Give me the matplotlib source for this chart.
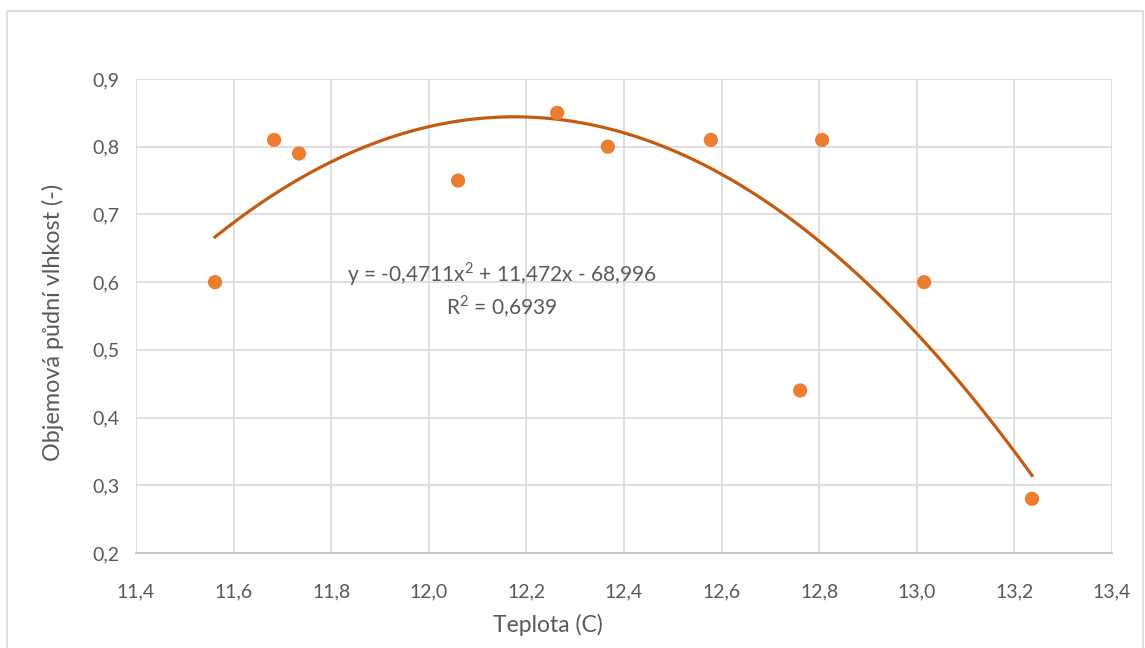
import numpy as np
import matplotlib.pyplot as plt
from matplotlib.patches import Rectangle
from matplotlib.ticker import FuncFormatter, MultipleLocator

# measured points
teplota = [11.562, 11.683, 11.734, 12.060, 12.263, 12.367, 12.578, 12.761, 12.806, 13.015, 13.236]
vlhkost = [0.60, 0.81, 0.79, 0.75, 0.85, 0.80, 0.81, 0.44, 0.81, 0.60, 0.28]

# polynomial trend (2nd order)
coef = [-0.4711, 11.472, -68.996]
r2 = 0.6939

plt.rcParams["font.family"] = ["Lato", "DejaVu Sans"]
plt.rcParams["mathtext.fontset"] = "custom"
plt.rcParams["mathtext.rm"] = "Lato"
text_col = "#595959"

fig = plt.figure(figsize=(11.45, 6.48), dpi=100)
fig.patches.append(Rectangle((7 / 1145, -0.01), 1136 / 1145, 1 - 11 / 648 + 0.01,
                             transform=fig.transFigure, fill=False,
                             edgecolor="#d9d9d9", linewidth=1.2))

ax = fig.add_axes([136 / 1145, 1 - 553 / 648, 976 / 1145, 474 / 648])

xs = np.linspace(min(teplota), max(teplota), 200)
ax.plot(xs, np.polyval(coef, xs), color="#c55a11", linewidth=2.3, zorder=2)
ax.scatter(teplota, vlhkost, s=105, color="#ed7d31", edgecolors="none", zorder=3)

ax.set_xlim(11.4, 13.4)
ax.set_ylim(0.2, 0.9)
ax.xaxis.set_major_locator(MultipleLocator(0.2))
ax.yaxis.set_major_locator(MultipleLocator(0.1))
ax.xaxis.set_major_formatter(FuncFormatter(lambda v, p: f"{v:.1f}".replace(".", ",")))
ax.yaxis.set_major_formatter(FuncFormatter(lambda v, p: f"{v:.1f}".replace(".", ",")))

ax.grid(True, color="#d9d9d9", linewidth=1.2, zorder=0)
ax.set_axisbelow(True)
for side in ["top", "right", "left"]:
    ax.spines[side].set_visible(False)
ax.spines["bottom"].set_color("#bfbfbf")
ax.spines["bottom"].set_linewidth(1.2)
ax.tick_params(length=0, labelsize=14, labelcolor=text_col, pad=22)
ax.tick_params(axis="y", pad=12)

ax.set_xlabel("Teplota (C)", fontsize=16.5, color=text_col, va="center")
ax.xaxis.set_label_coords((548 - 136) / 976, -72 / 474)
ax.set_ylabel("Objemová půdní vlhkost (-)", fontsize=16.8, color=text_col, va="center")
ax.yaxis.set_label_coords(-83 / 976, 0.487)

eq = "y = -0,4711x$^{2}$ + 11,472x - 68,996\nR$^{2}$ = " + f"{r2:.4f}".replace(".", ",")
ax.text(12.15, 0.588, eq, fontsize=15, color=text_col, ha="center", va="center",
        linespacing=1.25)

fig.savefig("out.png", dpi=100)
